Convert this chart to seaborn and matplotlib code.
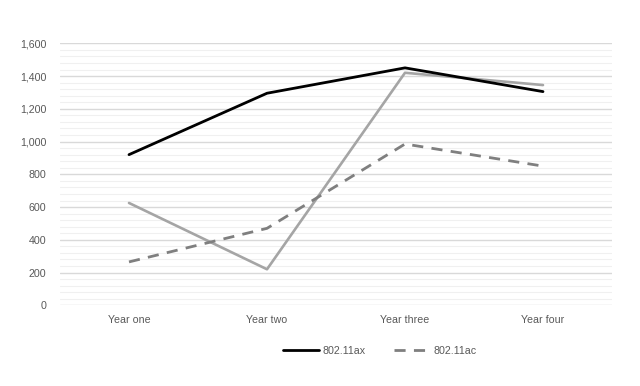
import matplotlib
matplotlib.use("Agg")
import matplotlib.pyplot as plt
import seaborn as sns
import pandas as pd
from matplotlib.ticker import MultipleLocator, FuncFormatter

categories = ["Year one", "Year two", "Year three", "Year four"]
ax_values = [920, 1295, 1450, 1305]
ac_values = [265, 470, 985, 850]
other_values = [625, 220, 1420, 1345]

sns.set_theme(style="white")
plt.rcParams["font.family"] = ["Liberation Sans", "DejaVu Sans"]

fig = plt.figure(figsize=(6.4, 3.86), dpi=100)
ax = fig.add_axes([60/640, 1-305.3/386, 552/640, (305.3-43.3)/386])

x = list(range(len(categories)))
df_ax = pd.DataFrame({"x": x, "y": ax_values})
df_ac = pd.DataFrame({"x": x, "y": ac_values})
df_ot = pd.DataFrame({"x": x, "y": other_values})

sns.lineplot(data=df_ot, x="x", y="y", ax=ax, color="#a5a5a5", linewidth=1.9, legend=False, zorder=3)
sns.lineplot(data=df_ac, x="x", y="y", ax=ax, color="#7f7f7f", linewidth=2.0,
             linestyle=(0, (4, 3)), label="802.11ac", zorder=3)
sns.lineplot(data=df_ax, x="x", y="y", ax=ax, color="#000000", linewidth=2.0, label="802.11ax", zorder=4)

ax.set_xlim(-0.5, 3.5)
ax.set_ylim(0, 1600)
ax.set_xticks(x)
ax.set_xticklabels(categories)
ax.yaxis.set_major_locator(MultipleLocator(200))
ax.yaxis.set_minor_locator(MultipleLocator(40))
ax.yaxis.set_major_formatter(FuncFormatter(lambda v, p: f"{int(v):,}"))
ax.grid(which="major", axis="y", color="#d9d9d9", linewidth=1.0)
ax.grid(which="minor", axis="y", color="#f0f0f0", linewidth=0.8)
ax.set_axisbelow(True)
for s in ax.spines.values():
    s.set_visible(False)
ax.tick_params(axis="both", which="both", length=0, labelsize=7.7, colors="#595959")
ax.tick_params(axis="y", pad=10)
ax.tick_params(axis="x", pad=7)
ax.set_xlabel("")
ax.set_ylabel("")

handles, labels = ax.get_legend_handles_labels()
order = [labels.index("802.11ax"), labels.index("802.11ac")]
ax.legend_.remove()
fig.legend([handles[i] for i in order], [labels[i] for i in order],
           loc="center", bbox_to_anchor=(380/640, 1-351/386), ncol=2, frameon=False,
           fontsize=7.7, labelcolor="#595959", handlelength=3.3, columnspacing=2.6,
           handletextpad=0.4)

fig.savefig("out.png", dpi=100, facecolor="white")
